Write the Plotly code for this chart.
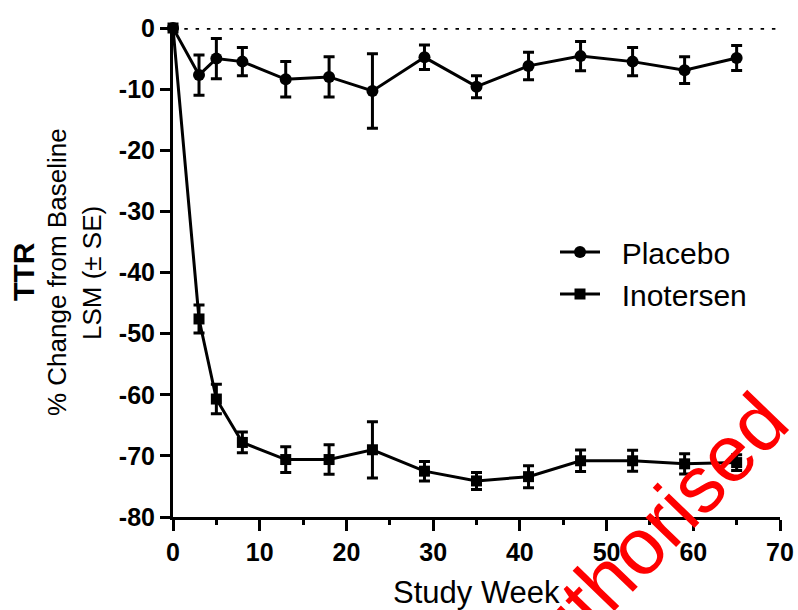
import plotly.graph_objects as go

# ---- data ----
weeks = [0, 3, 5, 8, 13, 18, 23, 29, 35, 41, 47, 53, 59, 65]
placebo_mean = [0, -7.7, -5.0, -5.5, -8.4, -8.0, -10.3, -4.8, -9.6, -6.2, -4.6, -5.5, -6.9, -4.9]
placebo_se = [0, 3.3, 3.3, 2.3, 2.9, 3.3, 6.1, 2.0, 1.8, 2.25, 2.4, 2.3, 2.2, 2.05]
inotersen_mean = [0, -47.6, -60.7, -67.8, -70.6, -70.6, -69.0, -72.5, -74.1, -73.4, -70.8, -70.8, -71.3, -71.1]
inotersen_se = [0, 2.3, 2.4, 1.7, 2.1, 2.4, 4.6, 1.6, 1.4, 1.8, 1.75, 1.7, 1.65, 1.3]

x_ticks = [0, 10, 20, 30, 40, 50, 60, 70]
x_tick_labels = ["0", "10", "20", "30", "40", "50", "60", "70"]
y_ticks = [0, -10, -20, -30, -40, -50, -60, -70, -80]
y_tick_labels = ["0", "-10", "-20", "-30", "-40", "-50", "-60", "-70", "-80"]

FONT = "Liberation Sans, Arial, sans-serif"
W, H = 798, 610
L, R, T, B = 173, 18, 28, 93
PW, PH = W - L - R, H - T - B


def px(xp):
    return (xp - L) / PW


def py(yp):
    return (H - B - yp) / PH


NB = "\u00a0\u00a0"

fig = go.Figure()
fig.add_trace(go.Scatter(
    x=weeks, y=placebo_mean, name=NB + "Placebo", mode="lines+markers",
    line=dict(color="black", width=3),
    marker=dict(symbol="circle", size=12, color="black"),
    error_y=dict(type="data", array=placebo_se, color="black", thickness=3, width=5.5),
    cliponaxis=False,
))
fig.add_trace(go.Scatter(
    x=weeks, y=inotersen_mean, name=NB + "Inotersen", mode="lines+markers",
    line=dict(color="black", width=3),
    marker=dict(symbol="square", size=11, color="black"),
    error_y=dict(type="data", array=inotersen_se, color="black", thickness=3, width=5.5),
    cliponaxis=False,
))

fig.add_shape(type="line", xref="x", yref="y", x0=0, x1=70, y0=0, y1=0,
              line=dict(color="black", width=3.5, dash="3.5px,7.8px"), layer="below")

fig.update_layout(
    template="none",
    width=W, height=H,
    margin=dict(l=L, r=R, t=T, b=B, autoexpand=False),
    paper_bgcolor="white", plot_bgcolor="white",
    font=dict(family=FONT, color="black"),
    showlegend=True,
    legend=dict(x=px(555), y=py(226), xanchor="left", yanchor="top",
                font=dict(family=FONT, size=30, color="black"),
                bgcolor="rgba(0,0,0,0)", borderwidth=0, itemwidth=40, tracegroupgap=0),
    xaxis=dict(range=[0, 70], tickvals=x_ticks, ticktext=x_tick_labels, automargin=False,
               showgrid=False, zeroline=False, showline=True, linecolor="black", linewidth=3,
               ticks="outside", ticklen=11, tickwidth=3, tickcolor="black",
               tickfont=dict(family=FONT, size=25, color="black", weight="bold"),
               minor=dict(dtick=5, ticks="outside", ticklen=5, tickwidth=3, tickcolor="black", showgrid=False),
               fixedrange=True),
    yaxis=dict(range=[-80, 0], tickvals=y_ticks, ticktext=y_tick_labels, automargin=False,
               showgrid=False, zeroline=False, showline=True, linecolor="black", linewidth=3,
               ticks="outside", ticklen=10, tickwidth=3, tickcolor="black",
               tickfont=dict(family=FONT, size=25, color="black", weight="bold"),
               fixedrange=True),
    annotations=[
        dict(text="Study Week", xref="paper", yref="paper", x=px(476), y=py(592),
             xanchor="center", yanchor="middle", showarrow=False,
             font=dict(family=FONT, size=31, color="black")),
        dict(text="<b>TTR</b>", xref="paper", yref="paper", x=px(23), y=py(272),
             xanchor="center", yanchor="middle", showarrow=False, textangle=-90,
             font=dict(family=FONT, size=30, color="black")),
        dict(text="% Change from Baseline", xref="paper", yref="paper", x=px(57), y=py(272),
             xanchor="center", yanchor="middle", showarrow=False, textangle=-90,
             font=dict(family=FONT, size=26, color="black")),
        dict(text="LSM (± SE)", xref="paper", yref="paper", x=px(92), y=py(273),
             xanchor="center", yanchor="middle", showarrow=False, textangle=-90,
             font=dict(family=FONT, size=26, color="black")),
        dict(text="authorised", xref="paper", yref="paper", x=px(643), y=py(541),
             xanchor="center", yanchor="middle", showarrow=False, textangle=-46,
             font=dict(family=FONT, size=80, color="#ff0000")),
    ],
)

fig.write_html("out.html", config={"displayModeBar": False},
               post_script="document.body.style.margin='0px';")
